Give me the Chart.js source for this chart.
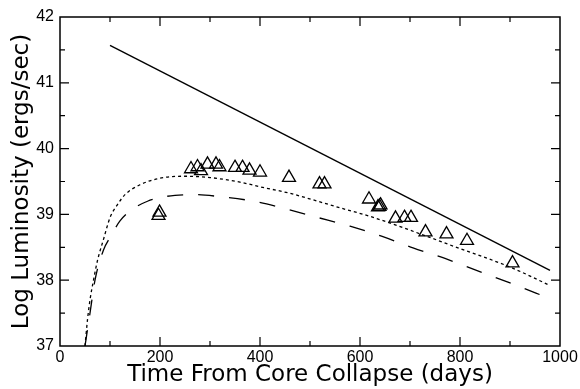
<!DOCTYPE html>
<html>
<head>
<meta charset="utf-8">
<script src="https://cdn.jsdelivr.net/npm/chart.js@4/dist/chart.umd.min.js"></script>
<style>
  html, body { margin: 0; padding: 0; background: #fff; }
  #wrap { width: 580px; height: 389px; }
</style>
</head>
<body>
<div id="wrap"><canvas id="grafico" width="580" height="389"></canvas></div>
<script>
// observed points (days, log L)
const obsDias = [197, 199, 262, 275, 282, 295, 312, 319, 350, 365, 379, 400, 458, 519, 529, 618, 636, 639, 641, 671, 689, 702, 731, 773, 814, 905];
const obsLogL = [38.98, 39.03, 39.69, 39.72, 39.66, 39.76, 39.76, 39.72, 39.71, 39.71, 39.67, 39.64, 39.56, 39.46, 39.46, 39.23, 39.11, 39.12, 39.14, 38.94, 38.95, 38.95, 38.73, 38.70, 38.60, 38.26];

// solid model line
const retaDias = [100, 980];
const retaLogL = [41.57, 38.15];

// short dashed model
const curtaDias = [50, 55, 60, 67, 75, 87, 100, 115, 130, 160, 200, 250, 300, 360, 400, 460, 520, 560, 620, 700, 800, 900, 980];
const curtaLogL = [37.0, 37.4, 37.7, 38.0, 38.3, 38.62, 38.95, 39.15, 39.3, 39.45, 39.55, 39.58, 39.56, 39.49, 39.42, 39.32, 39.19, 39.1, 38.97, 38.76, 38.48, 38.2, 37.92];

// long dashed model
const longaDias = [50, 60, 70, 87, 100, 120, 140, 175, 230, 270, 320, 387, 453, 517, 580, 643, 706, 770, 833, 896, 980];
const longaLogL = [37.0, 37.5, 38.0, 38.46, 38.65, 38.9, 39.05, 39.2, 39.29, 39.3, 39.27, 39.2, 39.08, 38.95, 38.82, 38.67, 38.49, 38.33, 38.15, 37.97, 37.72];

const xTicks = [0, 200, 400, 600, 800, 1000];
const yTicks = [37, 38, 39, 40, 41, 42];

const pares = (xs, ys) => xs.map((x, i) => ({ x: x, y: ys[i] }));

const fonte = "'Liberation Sans', Arial, sans-serif";
const fonteTitulo = "'DejaVu Sans', sans-serif";

// frame + inward ticks on all four sides
const moldura = {
  id: 'moldura',
  afterDraw(chart) {
    const c = chart.ctx;
    const a = chart.chartArea;
    const sx = chart.scales.x, sy = chart.scales.y;
    c.save();
    c.strokeStyle = '#000';
    c.lineWidth = 1.5;
    c.strokeRect(a.left, a.top, a.right - a.left, a.bottom - a.top);
    c.lineWidth = 1.2;
    c.beginPath();
    for (let v = 100; v < 1000; v += 100) {
      const px = sx.getPixelForValue(v);
      const len = v % 200 === 0 ? 9 : 5;
      c.moveTo(px, a.bottom); c.lineTo(px, a.bottom - len);
      c.moveTo(px, a.top); c.lineTo(px, a.top + len);
    }
    for (let v = 37.5; v < 42; v += 0.5) {
      const py = sy.getPixelForValue(v);
      const len = Number.isInteger(v) ? 9 : 5;
      c.moveTo(a.left, py); c.lineTo(a.left + len, py);
      c.moveTo(a.right, py); c.lineTo(a.right - len, py);
    }
    c.stroke();
    c.restore();
  }
};

new Chart(document.getElementById('grafico').getContext('2d'), {
  type: 'scatter',
  data: {
    datasets: [
      {
        label: 'obs',
        data: pares(obsDias, obsLogL),
        pointStyle: 'triangle',
        pointRadius: 7.5,
        borderColor: '#000',
        backgroundColor: 'rgba(0,0,0,0)',
        borderWidth: 1.3
      },
      {
        type: 'line',
        data: pares(retaDias, retaLogL),
        borderColor: '#000',
        borderWidth: 1.4,
        pointRadius: 0,
        fill: false
      },
      {
        type: 'line',
        data: pares(curtaDias, curtaLogL),
        borderColor: '#000',
        borderWidth: 1.3,
        borderDash: [3, 3],
        pointRadius: 0,
        cubicInterpolationMode: 'monotone',
        fill: false
      },
      {
        type: 'line',
        data: pares(longaDias, longaLogL),
        borderColor: '#000',
        borderWidth: 1.3,
        borderDash: [16, 15],
        pointRadius: 0,
        cubicInterpolationMode: 'monotone',
        fill: false
      }
    ]
  },
  options: {
    responsive: false,
    animation: false,
    layout: { padding: { top: 17, right: 20, left: 0, bottom: 0 } },
    plugins: {
      legend: { display: false },
      tooltip: { enabled: false }
    },
    scales: {
      x: {
        type: 'linear',
        min: 0,
        max: 1000,
        grid: { display: false, drawTicks: false },
        border: { display: false },
        afterBuildTicks: s => { s.ticks = xTicks.map(v => ({ value: v })); },
        ticks: {
          color: '#000', padding: 2, maxRotation: 0,
          font: { family: fonte, size: 16 },
          callback: v => String(v)
        },
        title: {
          display: true,
          text: 'Time From Core Collapse (days)',
          color: '#000',
          padding: { top: 0, bottom: 0 },
          font: { family: fonteTitulo, size: 23 }
        },
        afterFit: s => { s.height = 43; }
      },
      y: {
        type: 'linear',
        min: 37,
        max: 42,
        grid: { display: false, drawTicks: false },
        border: { display: false },
        afterBuildTicks: s => { s.ticks = yTicks.map(v => ({ value: v })); },
        ticks: {
          color: '#000', padding: 6,
          font: { family: fonte, size: 16 },
          callback: v => String(v)
        },
        title: {
          display: true,
          text: 'Log Luminosity (ergs/sec)',
          color: '#000',
          padding: { top: 8, bottom: 0 },
          font: { family: fonteTitulo, size: 23 }
        },
        afterFit: s => { s.width = 60; }
      }
    }
  },
  plugins: [moldura]
});
</script>
</body>
</html>
